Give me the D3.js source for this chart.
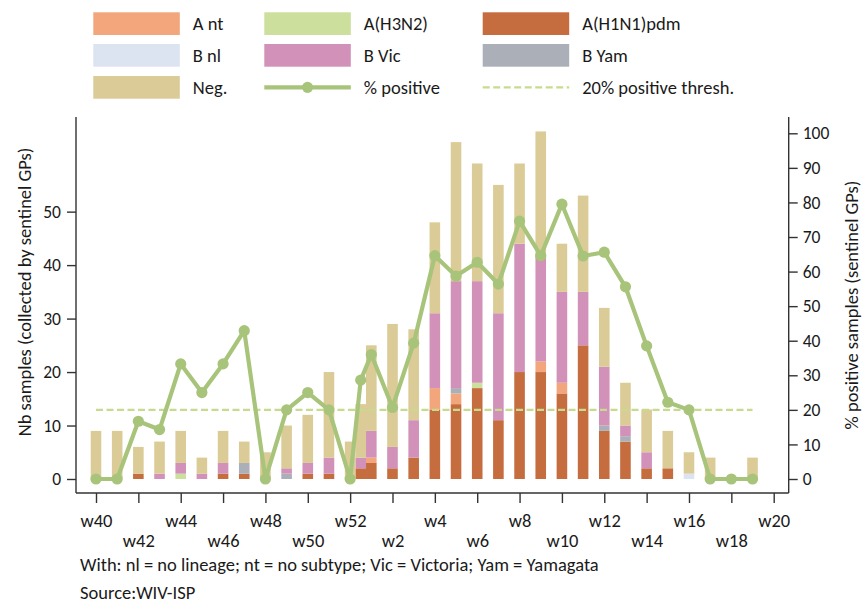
<!DOCTYPE html>
<html>
<head>
<meta charset="utf-8">
<script src="https://cdn.jsdelivr.net/npm/d3@7"></script>
<style>
  body { margin: 0; background: #fff; }
  svg text { font-family: Carlito, Lato, sans-serif; fill: #1a1a1a; }
</style>
</head>
<body>
<svg id="chart" width="862" height="605"></svg>
<script>
// season weeks (2020 had a week 53)
var weeks = ["w40","w41","w42","w43","w44","w45","w46","w47","w48","w49","w50","w51","w52","w53",
             "w1","w2","w3","w4","w5","w6","w7","w8","w9","w10","w11","w12","w13","w14","w15","w16","w17","w18","w19"];

var h1n1 = [0,0,1,0,0,0,1,1,0,0,1,1,0,2, 3,2,4,13,14,17,11,20,20,16,25,9,7,2,2,0,0,0,0];
var aNt  = [0,0,0,0,0,0,0,0,0,0,0,0,0,0, 1,0,0,4,2,0,0,0,2,2,0,0,0,0,0,0,0,0,0];
var h3n2 = [0,0,0,0,1,0,0,0,0,0,0,0,0,0, 0,0,0,0,0,1,0,0,0,0,0,0,0,0,0,0,0,0,0];
var bYam = [0,0,0,0,0,0,0,2,0,1,0,0,0,0, 0,0,0,0,1,0,0,0,0,0,0,1,1,0,0,0,0,0,0];
var bNl  = [0,0,0,0,0,0,0,0,0,0,0,0,0,0, 0,0,0,0,0,0,0,0,0,0,0,0,0,0,0,1,0,0,0];
var bVic = [0,0,0,1,2,1,2,0,0,1,2,3,0,2, 5,4,7,14,20,19,20,24,20,17,10,11,2,3,0,0,0,0,0];
var neg  = [9,9,5,6,6,3,6,4,5,8,9,16,7,10, 16,23,17,17,26,22,24,15,23,9,18,11,8,8,7,4,4,0,4];

var pctPositive = [0,0,16.7,14.3,33.3,25,33.3,42.9,0,20,25,20,0,28.6,
                   36,20.7,39.3,64.6,58.7,62.7,56.4,74.6,64.6,79.5,64.5,65.6,55.6,38.5,22.2,20,0,0,0];

var threshold = 20;

var tickLabels = ["w40","w42","w44","w46","w48","w50","w52","w2","w4","w6","w8","w10","w12","w14","w16","w18","w20"];

var footnotes = ["With: nl = no lineage; nt = no subtype; Vic = Victoria; Yam = Yamagata", "Source:WIV-ISP"];

var series = [
    { key: "h1n1", label: "A(H1N1)pdm", color: "#c56d3f", values: h1n1 },
    { key: "aNt",  label: "A nt",       color: "#f3a57b", values: aNt },
    { key: "h3n2", label: "A(H3N2)",    color: "#cddf9d", values: h3n2 },
    { key: "bYam", label: "B Yam",      color: "#abafb8", values: bYam },
    { key: "bNl",  label: "B nl",       color: "#dce3f1", values: bNl },
    { key: "bVic", label: "B Vic",      color: "#d291b8", values: bVic },
    { key: "neg",  label: "Neg.",       color: "#dbcb96", values: neg }
];
var colorOf = {};
series.forEach(function(s){ colorOf[s.key] = s.color; });

var lineColor = "#a8c47a",
    threshColor = "#c6db8e";

var textSize = 18.5, numSize = 17.5;

// position of a week along the season (w53 squeezed between w52 and w1)
function weekPos(label) {
    var w = +label.slice(1);
    if (w === 53) return 12.5;
    return w >= 40 ? w - 40 : w + 12;
}

var rows = weeks.map(function(w, i) {
    var r = { week: w, pos: weekPos(w), pct: pctPositive[i] };
    series.forEach(function(s){ r[s.key] = s.values[i]; });
    return r;
});

var svg = d3.select("#chart");

var x = d3.scaleLinear().domain([0, 32]).range([96, 773.7]);
var yR = d3.scaleLinear().domain([0, 100]).range([479, 133.3]);
var yL = d3.scaleLinear().domain([0, 64.65]).range([479, 133.3]);

var plotLeft = 76, plotRight = 788.7, plotTop = 117, plotBottom = 493;
var barW = (x(1) - x(0)) * 0.5;

/* ------- BARS -------*/
var stack = d3.stack().keys(series.map(function(s){ return s.key; }));
var layers = stack(rows);

svg.append("g").attr("class", "bars")
    .selectAll("g")
    .data(layers)
    .enter().append("g")
    .attr("fill", function(d){ return colorOf[d.key]; })
    .selectAll("rect")
    .data(function(d){ return d.filter(function(p){ return p[1] > p[0]; }); })
    .enter().append("rect")
    .attr("x", function(d){ return x(d.data.pos) - barW / 2; })
    .attr("width", barW)
    .attr("y", function(d){ return yL(d[1]); })
    .attr("height", function(d){ return yL(d[0]) - yL(d[1]); });

/* ------- THRESHOLD -------*/
svg.append("line")
    .attr("x1", x(rows[0].pos)).attr("x2", x(rows[rows.length - 1].pos))
    .attr("y1", yR(threshold)).attr("y2", yR(threshold))
    .attr("stroke", threshColor)
    .attr("stroke-width", 2.3)
    .attr("stroke-dasharray", "7,3.5");

/* ------- % POSITIVE LINE -------*/
var line = d3.line()
    .x(function(d){ return x(d.pos); })
    .y(function(d){ return yR(d.pct); });

svg.append("path")
    .datum(rows)
    .attr("fill", "none")
    .attr("stroke", lineColor)
    .attr("stroke-width", 4.2)
    .attr("stroke-linejoin", "round")
    .attr("d", line);

svg.append("g").selectAll("circle")
    .data(rows)
    .enter().append("circle")
    .attr("cx", function(d){ return x(d.pos); })
    .attr("cy", function(d){ return yR(d.pct); })
    .attr("r", 5.6)
    .attr("fill", lineColor);

/* ------- AXES -------*/
var axisColor = "#333";
var axes = svg.append("g").attr("stroke", axisColor).attr("stroke-width", 1.4);
axes.append("line").attr("x1", plotLeft).attr("x2", plotLeft).attr("y1", plotTop).attr("y2", plotBottom);
axes.append("line").attr("x1", plotRight).attr("x2", plotRight).attr("y1", plotTop).attr("y2", plotBottom);
axes.append("line").attr("x1", plotLeft).attr("x2", plotRight).attr("y1", plotBottom).attr("y2", plotBottom);

var leftAxis = svg.append("g")
    .attr("transform", "translate(" + plotLeft + ",0)")
    .call(d3.axisLeft(yL).tickValues([0, 10, 20, 30, 40, 50]).tickSize(9).tickPadding(6));
var rightAxis = svg.append("g")
    .attr("transform", "translate(" + plotRight + ",0)")
    .call(d3.axisRight(yR).tickValues(d3.range(0, 101, 10)).tickSize(9).tickPadding(5));
var bottomAxis = svg.append("g")
    .attr("transform", "translate(0," + plotBottom + ")")
    .call(d3.axisBottom(x)
        .tickValues(tickLabels.map(function(t, i){ return i * 2; }))
        .tickFormat(function(d, i){ return tickLabels[i]; })
        .tickSize(10));

[leftAxis, rightAxis, bottomAxis].forEach(function(a) {
    a.select(".domain").remove();
    a.selectAll(".tick line").attr("stroke", axisColor).attr("stroke-width", 1.4);
    a.selectAll(".tick text").attr("font-size", numSize).attr("font-family", null).style("fill", "#1a1a1a");
});

bottomAxis.selectAll(".tick text")
    .attr("font-size", textSize)
    .attr("dy", null)
    .attr("y", function(d, i){ return i % 2 === 0 ? 33.5 : 53.5; });

/* ------- AXIS TITLES -------*/
svg.append("text")
    .attr("transform", "translate(31,292) rotate(-90)")
    .attr("text-anchor", "middle")
    .attr("font-size", textSize)
    .text("Nb samples (collected by sentinel GPs)");

svg.append("text")
    .attr("transform", "translate(858,305) rotate(-90)")
    .attr("text-anchor", "middle")
    .attr("font-size", textSize)
    .text("% positive samples (sentinel GPs)");

/* ------- FOOTNOTES -------*/
svg.selectAll("text.note")
    .data(footnotes)
    .enter().append("text")
    .attr("class", "note")
    .attr("x", 80)
    .attr("y", function(d, i){ return i === 0 ? 571 : 599; })
    .attr("font-size", textSize)
    .text(function(d){ return d; });

/* ------- LEGEND -------*/
var legendItems = [
    { label: "A nt", kind: "rect", key: "aNt" },
    { label: "A(H3N2)", kind: "rect", key: "h3n2" },
    { label: "A(H1N1)pdm", kind: "rect", key: "h1n1" },
    { label: "B nl", kind: "rect", key: "bNl" },
    { label: "B Vic", kind: "rect", key: "bVic" },
    { label: "B Yam", kind: "rect", key: "bYam" },
    { label: "Neg.", kind: "rect", key: "neg" },
    { label: "% positive", kind: "line" },
    { label: "20% positive thresh.", kind: "dash" }
];
var colX = [93.3, 264.3, 482.7], rowY = [12.3, 44, 76], swW = 86.5, swH = 22.7;

var leg = svg.append("g").selectAll("g")
    .data(legendItems)
    .enter().append("g")
    .attr("transform", function(d, i){ return "translate(" + colX[i % 3] + "," + rowY[Math.floor(i / 3)] + ")"; });

leg.each(function(d) {
    var g = d3.select(this);
    if (d.kind === "rect") {
        g.append("rect").attr("width", swW).attr("height", swH).attr("fill", colorOf[d.key]);
    } else if (d.kind === "line") {
        g.append("line").attr("x1", 0).attr("x2", swW).attr("y1", swH / 2).attr("y2", swH / 2)
            .attr("stroke", lineColor).attr("stroke-width", 4.2);
        g.append("circle").attr("cx", swW / 2).attr("cy", swH / 2).attr("r", 5.6).attr("fill", lineColor);
    } else {
        g.append("line").attr("x1", 0).attr("x2", swW).attr("y1", swH / 2).attr("y2", swH / 2)
            .attr("stroke", threshColor).attr("stroke-width", 2.3).attr("stroke-dasharray", "7,3.5");
    }
    g.append("text")
        .attr("x", swW + 13)
        .attr("y", swH / 2 + 6.5)
        .attr("font-size", textSize)
        .text(d.label);
});
</script>
</body>
</html>
